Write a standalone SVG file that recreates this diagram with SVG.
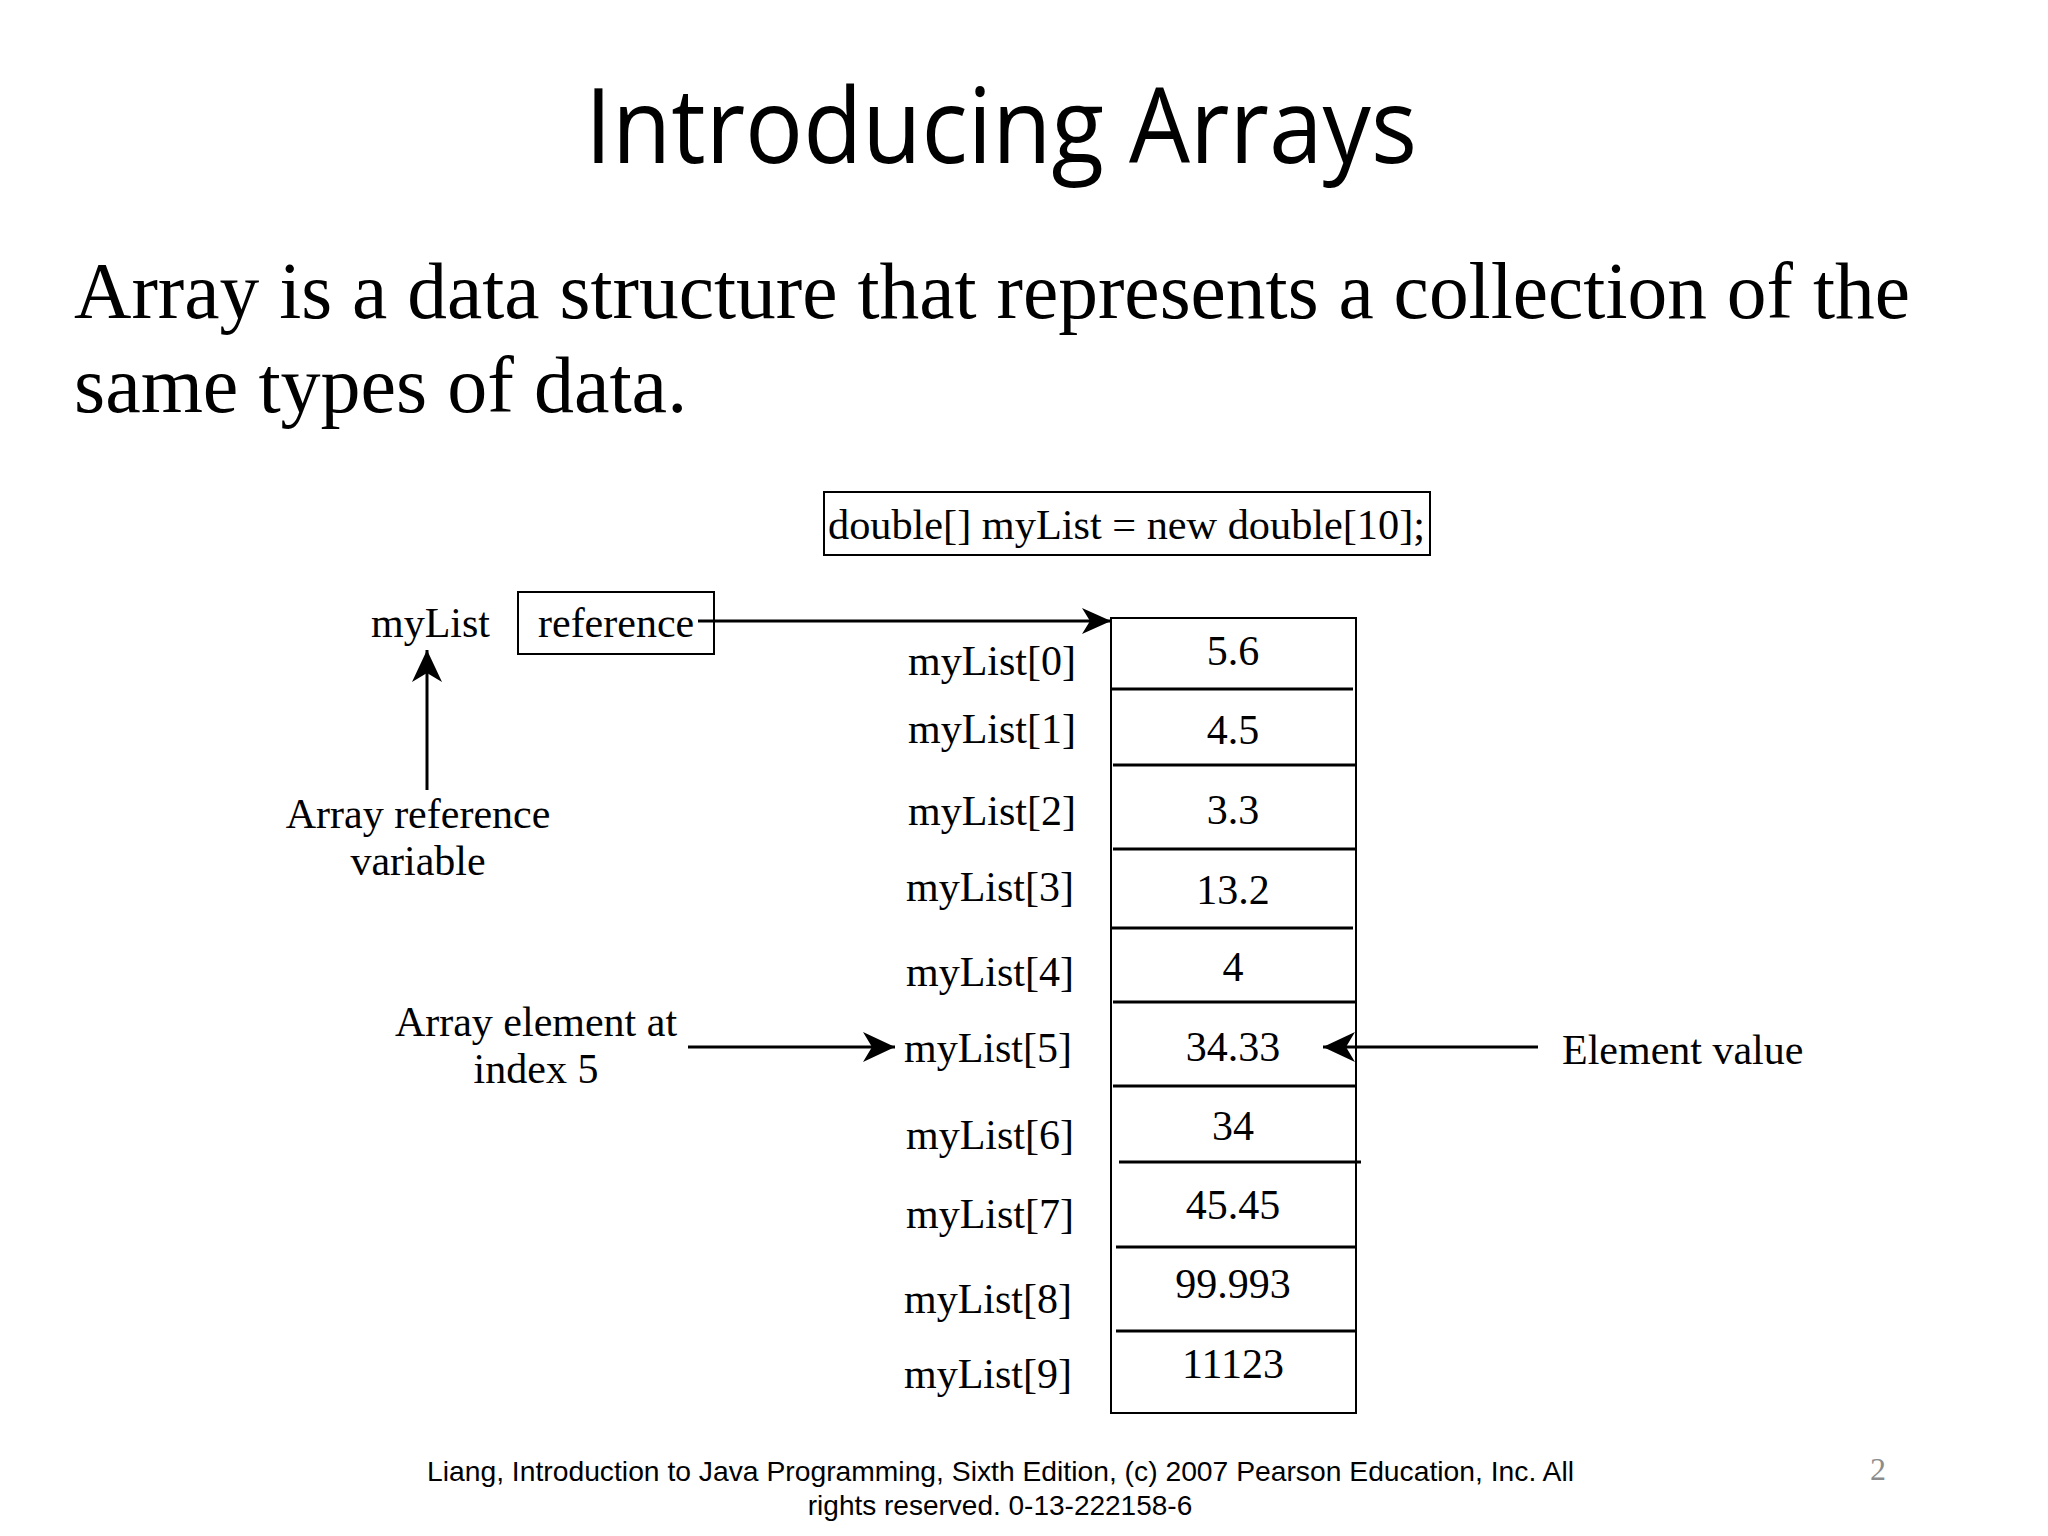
<svg xmlns="http://www.w3.org/2000/svg" width="2048" height="1536" viewBox="0 0 2048 1536">
<style>
.t{font-family:"Liberation Serif","Times New Roman",serif;fill:#000}
.s42{font-size:42px}
.box{fill:none;stroke:#000;stroke-width:2}
.sep{stroke:#000;stroke-width:3}
.con{stroke:#000;stroke-width:3;fill:none}
</style>
<defs>
<marker id="ah" markerWidth="32" markerHeight="32" refX="32" refY="16" orient="auto" markerUnits="userSpaceOnUse">
<path d="M0,1 L32,16 L0,31 L9,16 Z" fill="#000"/>
</marker>
<marker id="ahs" markerWidth="30" markerHeight="28" refX="29" refY="14" orient="auto" markerUnits="userSpaceOnUse">
<path d="M0,1 L29,14 L0,27 L8,14 Z" fill="#000"/>
</marker>
</defs>
<rect width="2048" height="1536" fill="#fff"/>

<g id="title">
<text x="585" y="163" font-family="'Open Sans','Noto Sans',sans-serif" font-size="104" font-weight="500" textLength="832" lengthAdjust="spacingAndGlyphs">Introducing Arrays</text>
</g>
<g id="body">
<text class="t" x="74" y="318" font-size="80" textLength="1836" lengthAdjust="spacingAndGlyphs">Array is a data structure that represents a collection of the</text>
<text class="t" x="74" y="412" font-size="80">same types of data.</text>
</g>

<g id="code">
<rect class="box" x="824" y="492" width="606" height="63"/>
<text class="t s42" x="828" y="539" textLength="597" lengthAdjust="spacingAndGlyphs">double[] myList = new double[10];</text>
</g>

<g id="mylist-var">
<text class="t s42" x="371" y="637">myList</text>
</g>
<g id="reference">
<rect class="box" x="518" y="592" width="196" height="62"/>
<text class="t s42" x="538" y="637">reference</text>
</g>
<g id="array-ref-label">
<text class="t s42" x="418" y="828" text-anchor="middle">Array reference</text>
<text class="t s42" x="418" y="875" text-anchor="middle">variable</text>
</g>
<g id="element-label">
<text class="t s42" x="536" y="1036" text-anchor="middle">Array element at</text>
<text class="t s42" x="536" y="1083" text-anchor="middle">index 5</text>
</g>
<g id="element-value">
<text class="t s42" x="1562" y="1064">Element value</text>
</g>

<g id="array">
<rect class="box" x="1111" y="618" width="245" height="795"/>
<line class="sep" x1="1112" y1="689" x2="1353" y2="689"/>
<line class="sep" x1="1113" y1="765" x2="1355" y2="765"/>
<line class="sep" x1="1113" y1="849" x2="1355" y2="849"/>
<line class="sep" x1="1111" y1="928" x2="1353" y2="928"/>
<line class="sep" x1="1113" y1="1002" x2="1355" y2="1002"/>
<line class="sep" x1="1113" y1="1086" x2="1355" y2="1086"/>
<line class="sep" x1="1119" y1="1162" x2="1361" y2="1162"/>
<line class="sep" x1="1116" y1="1247" x2="1357" y2="1247"/>
<line class="sep" x1="1116" y1="1331" x2="1357" y2="1331"/>
<g class="t s42" text-anchor="middle">
<text x="1233" y="665">5.6</text>
<text x="1233" y="744">4.5</text>
<text x="1233" y="824">3.3</text>
<text x="1233" y="904">13.2</text>
<text x="1233" y="981">4</text>
<text x="1233" y="1061">34.33</text>
<text x="1233" y="1140">34</text>
<text x="1233" y="1219">45.45</text>
<text x="1233" y="1298">99.993</text>
<text x="1233" y="1378">11123</text>
</g>
</g>

<g id="index-labels" class="t s42" text-anchor="end">
<text x="1076" y="675">myList[0]</text>
<text x="1076" y="743">myList[1]</text>
<text x="1076" y="825">myList[2]</text>
<text x="1074" y="901">myList[3]</text>
<text x="1074" y="986">myList[4]</text>
<text x="1072" y="1062">myList[5]</text>
<text x="1074" y="1149">myList[6]</text>
<text x="1074" y="1228">myList[7]</text>
<text x="1072" y="1313">myList[8]</text>
<text x="1072" y="1388">myList[9]</text>
</g>

<g id="connectors">
<line class="con" x1="698" y1="621" x2="1111" y2="621" marker-end="url(#ahs)"/>
<line class="con" x1="427" y1="790" x2="427" y2="650" marker-end="url(#ah)"/>
<line class="con" x1="688" y1="1047" x2="895" y2="1047" marker-end="url(#ah)"/>
<line class="con" x1="1538" y1="1047" x2="1323" y2="1047" marker-end="url(#ah)"/>
</g>

<g id="footer">
<text x="427" y="1481" font-family="'Liberation Sans',Arial,sans-serif" font-size="28" textLength="1147" lengthAdjust="spacingAndGlyphs">Liang, Introduction to Java Programming, Sixth Edition, (c) 2007 Pearson Education, Inc. All</text>
<text x="1000" y="1515" font-family="'Liberation Sans',Arial,sans-serif" font-size="28" text-anchor="middle">rights reserved. 0-13-222158-6</text>
<text x="1870" y="1480" font-family="'Liberation Serif',serif" font-size="32" fill="#8c8c8c">2</text>
</g>
</svg>
